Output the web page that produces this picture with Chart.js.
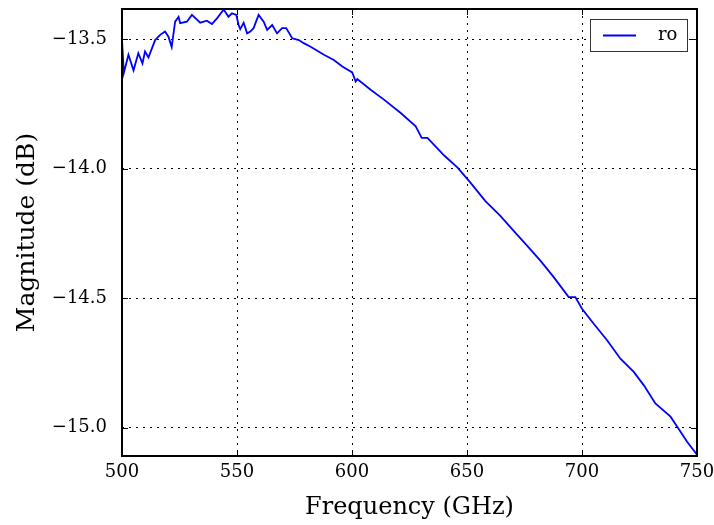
<!DOCTYPE html>
<html>
<head>
<meta charset="utf-8">
<script src="https://cdn.jsdelivr.net/npm/chart.js@4/dist/chart.umd.min.js"></script>
<style>
  html, body { margin: 0; padding: 0; background: #fff; }
  #wrap { width: 714px; height: 525px; }
</style>
</head>
<body>
<div id="wrap"><canvas id="grafica" width="714" height="525"></canvas></div>
<script>
// Datos
const serieNombre = 'ro';
const frecuencias = [
  500, 500.8, 502.8, 505, 507.1, 508.9, 510, 511.5, 514.4, 516.6, 518.7, 520.2, 521.6, 523.1, 524.6,
  525.3, 528.2, 530.4, 534, 536.9, 539.1, 541.3, 544.2, 546.3, 547.8, 549.7, 550.7, 551.4, 552.9,
  554.4, 555.8, 557.2, 559.4, 561.6, 563.1, 565.3, 567.4, 569.6, 571.4, 574, 576.9, 579, 582,
  587.8, 592.1, 595.8, 600.1, 601.6, 602.3, 608.1, 613.9, 621.2, 627.7, 630.3, 632.8, 640.1,
  645.9, 651.4, 658, 664.5, 670.3, 676.1, 681.9, 687.7, 694.2, 697.1, 700, 705.1, 710.9, 716.7,
  722.5, 726.9, 731.9, 738.5, 741.4, 745.7, 750
];
const magnitudes = [
  -13.50, -13.63, -13.56, -13.62, -13.554, -13.593, -13.547, -13.57, -13.503, -13.483, -13.47, -13.49, -13.53, -13.432, -13.413,
  -13.438, -13.432, -13.406, -13.436, -13.428, -13.441, -13.419, -13.385, -13.413, -13.40, -13.406, -13.445, -13.461, -13.436,
  -13.477, -13.47, -13.457, -13.406, -13.432, -13.464, -13.445, -13.477, -13.457, -13.457, -13.496, -13.503, -13.515, -13.529,
  -13.56, -13.58, -13.605, -13.628, -13.663, -13.654, -13.695, -13.733, -13.785, -13.836, -13.881, -13.881, -13.949,
  -13.996, -14.053, -14.125, -14.182, -14.24, -14.297, -14.355, -14.419, -14.496, -14.496, -14.541, -14.599, -14.663, -14.734,
  -14.785, -14.837, -14.907, -14.958, -14.997, -15.055, -15.105
];
const ticksX = [500, 550, 600, 650, 700, 750];
const ticksY = [-15.0, -14.5, -14.0, -13.5];

const fuenteSerif = "'DejaVu Serif', serif";

// Marco, marcas interiores y leyenda al estilo matplotlib
const pluginMarco = {
  id: 'marco',
  afterDraw(chart) {
    const { ctx, chartArea: a, scales } = chart;
    ctx.save();
    ctx.strokeStyle = '#000';
    ctx.lineWidth = 1;
    ticksX.forEach(v => {
      const px = Math.round(scales.x.getPixelForValue(v)) + 0.5;
      ctx.beginPath();
      ctx.moveTo(px, a.bottom); ctx.lineTo(px, a.bottom - 6);
      ctx.moveTo(px, a.top); ctx.lineTo(px, a.top + 6);
      ctx.stroke();
    });
    ticksY.forEach(v => {
      const py = Math.round(scales.y.getPixelForValue(v)) + 0.5;
      ctx.beginPath();
      ctx.moveTo(a.left, py); ctx.lineTo(a.left + 6, py);
      ctx.moveTo(a.right, py); ctx.lineTo(a.right - 6, py);
      ctx.stroke();
    });
    ctx.lineWidth = 2;
    ctx.strokeRect(a.left, a.top, a.right - a.left, a.bottom - a.top);

    // leyenda
    const ds = chart.data.datasets[0];
    const bx = a.right - 107, by = a.top + 10, bw = 97, bh = 32;
    ctx.fillStyle = '#fff';
    ctx.fillRect(bx, by, bw, bh);
    ctx.lineWidth = 1;
    ctx.strokeStyle = '#333';
    ctx.strokeRect(bx + 0.5, by + 0.5, bw, bh);
    ctx.strokeStyle = ds.borderColor;
    ctx.lineWidth = 1.8;
    ctx.beginPath();
    ctx.moveTo(bx + 13, by + 16.5); ctx.lineTo(bx + 46, by + 16.5);
    ctx.stroke();
    ctx.fillStyle = '#000';
    ctx.font = "18px " + fuenteSerif;
    ctx.textAlign = 'left';
    ctx.textBaseline = 'middle';
    ctx.fillText(ds.label, bx + 68, by + 16);
    ctx.restore();
  }
};

const puntos = frecuencias.map((f, i) => ({ x: f, y: magnitudes[i] }));

new Chart(document.getElementById('grafica'), {
  type: 'line',
  data: {
    datasets: [{
      label: serieNombre,
      data: puntos,
      borderColor: '#0000ff',
      borderWidth: 1.8,
      pointRadius: 0,
      tension: 0,
      fill: false
    }]
  },
  options: {
    responsive: false,
    animation: false,
    layout: { padding: { left: 0, right: 17, top: 9, bottom: 0 } },
    plugins: { legend: { display: false }, tooltip: { enabled: false } },
    scales: {
      x: {
        type: 'linear',
        min: 500,
        max: 750,
        afterBuildTicks: s => { s.ticks = ticksX.map(v => ({ value: v })); },
        afterFit: s => { s.height = 69; s.paddingLeft = 0; s.paddingRight = 0; },
        grid: { color: '#000', lineWidth: 1, drawTicks: false },
        border: { display: false, dash: [2, 5] },
        ticks: { color: '#000', padding: 6, font: { family: fuenteSerif, size: 18 }, maxRotation: 0, callback: v => String(v) },
        title: { display: true, text: 'Frequency (GHz)', color: '#000', font: { family: fuenteSerif, size: 24 }, padding: { top: 0, bottom: 3 } }
      },
      y: {
        type: 'linear',
        min: -15.11,
        max: -13.383,
        afterBuildTicks: s => { s.ticks = ticksY.map(v => ({ value: v })); },
        afterFit: s => { s.width = 122; s.paddingTop = 0; s.paddingBottom = 0; },
        grid: { color: '#000', lineWidth: 1, drawTicks: false },
        border: { display: false, dash: [2, 5] },
        ticks: { color: '#000', padding: 15, font: { family: fuenteSerif, size: 18 }, callback: v => '\u2212' + Math.abs(v).toFixed(1) },
        title: { display: true, text: 'Magnitude (dB)', color: '#000', font: { family: fuenteSerif, size: 25 }, padding: { top: 12, bottom: 0 } }
      }
    }
  },
  plugins: [pluginMarco]
});
</script>
</body>
</html>
